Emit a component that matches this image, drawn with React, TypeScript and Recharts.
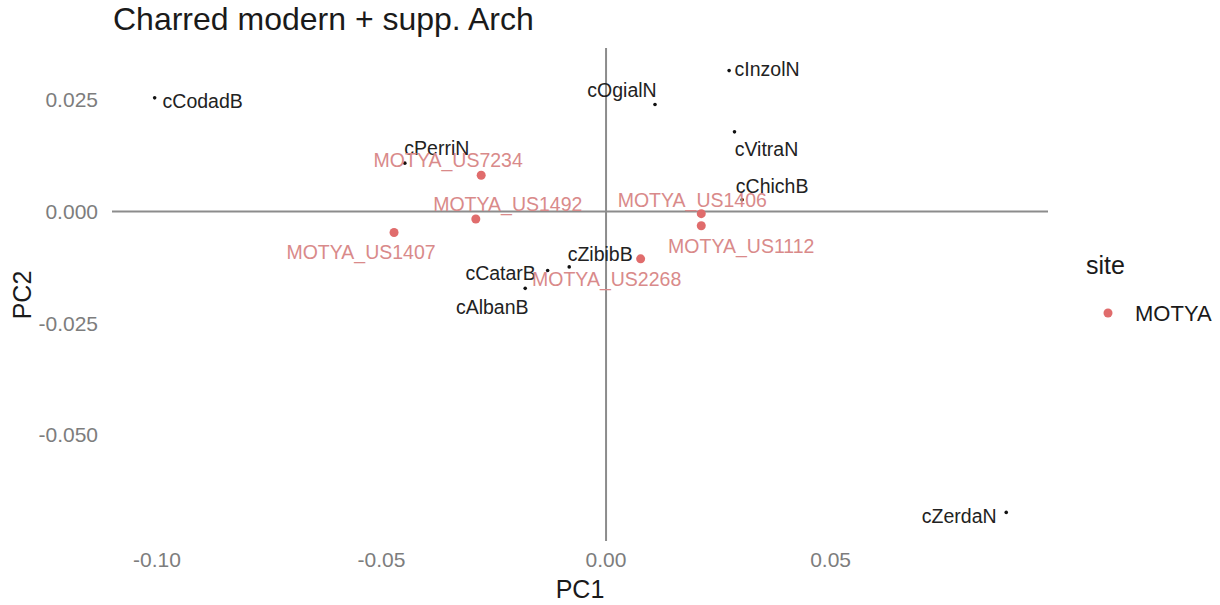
import React from 'react';
import { ScatterChart, Scatter, XAxis, YAxis, ReferenceLine } from 'recharts';

// Reference accessions (black)
const refNames = ['cCodadB', 'cPerriN', 'cOgialN', 'cInzolN', 'cVitraN', 'cChichB', 'cZibibB', 'cCatarB', 'cAlbanB', 'cZerdaN'];
const refPC1 = [-0.1005, -0.0448, 0.0109, 0.0274, 0.0286, 0.0303, -0.0082, -0.0130, -0.0180, 0.0891];
const refPC2 = [0.0254, 0.0108, 0.0239, 0.0315, 0.0178, 0.0026, -0.0124, -0.0132, -0.0172, -0.0673];

// Archaeological samples, site MOTYA (red)
const motyaNames = ['MOTYA_US7234', 'MOTYA_US1492', 'MOTYA_US1407', 'MOTYA_US1406', 'MOTYA_US1112', 'MOTYA_US2268'];
const motyaPC1 = [-0.0278, -0.0290, -0.0472, 0.0212, 0.0212, 0.0077];
const motyaPC2 = [0.0081, -0.0017, -0.0047, -0.0005, -0.0032, -0.0106];

const xTicks = [-0.1, -0.05, 0, 0.05];
const yTicks = [-0.05, -0.025, 0, 0.025];

// Repelled label placement (text centre / baseline relative to the point, px)
const labelNudge: Record<string, [number, number]> = {
  cCodadB: [48, 10],
  cPerriN: [32, -8],
  cOgialN: [-33, -8],
  cInzolN: [38, 5],
  cVitraN: [32, 24],
  cChichB: [30, -7],
  cZibibB: [31, -6],
  cCatarB: [-47, 10],
  cAlbanB: [-33, 26],
  cZerdaN: [-47, 11],
  MOTYA_US7234: [-33, -8],
  MOTYA_US1492: [32, -8],
  MOTYA_US1407: [-33, 27],
  MOTYA_US1406: [-9, -7],
  MOTYA_US1112: [40, 27],
  MOTYA_US2268: [-34, 27],
};

const FONT = '"Liberation Sans", Arial, sans-serif';
const MOTYA_COLOR = '#E06C6C';
const MOTYA_TEXT = '#D98A8A';
const REF_COLOR = '#111111';
const REF_TEXT = '#222222';

const refData = refNames.map((name, i) => ({ name, pc1: refPC1[i], pc2: refPC2[i] }));
const motyaData = motyaNames.map((name, i) => ({ name, pc1: motyaPC1[i], pc2: motyaPC2[i] }));

const dot = (r: number, fill: string) => (p: any) => (
  <circle cx={p.cx} cy={p.cy} r={r} fill={fill} />
);

const label = (fill: string) => (p: any) => {
  const [dx, dy] = labelNudge[p.payload.name] || [0, 0];
  return (
    <text
      x={p.cx + dx}
      y={p.cy + dy}
      textAnchor="middle"
      fill={fill}
      fontSize={19.5}
      fontFamily={FONT}
    >
      {p.payload.name}
    </text>
  );
};

export default function App() {
  return (
    <div style={{ position: 'absolute', left: 0, top: 0, width: 1220, height: 605, background: '#fff' }}>
      <ScatterChart
        width={1220}
        height={605}
        margin={{ top: 48, right: 172, bottom: 34, left: 12 }}
      >
        <XAxis
          type="number"
          dataKey="pc1"
          domain={[-0.11, 0.0984]}
          allowDataOverflow
          ticks={xTicks}
          tickFormatter={(v: number) => v.toFixed(2)}
          axisLine={false}
          tickLine={false}
          tickSize={0}
          tickMargin={11}
          height={30}
          tick={{ fill: '#7d7d7d', fontSize: 21, fontFamily: FONT }}
        />
        <YAxis
          type="number"
          dataKey="pc2"
          domain={[-0.0737, 0.03655]}
          allowDataOverflow
          ticks={yTicks}
          tickFormatter={(v: number) => v.toFixed(3)}
          axisLine={false}
          tickLine={false}
          tickSize={0}
          tickMargin={14}
          width={100}
          tick={{ fill: '#7d7d7d', fontSize: 21, fontFamily: FONT }}
        />
        <ReferenceLine x={0} stroke="#8c8c8c" strokeWidth={2} />
        <ReferenceLine y={0} stroke="#8c8c8c" strokeWidth={2} />
        <Scatter data={refData} shape={dot(1.8, REF_COLOR)} isAnimationActive={false} />
        <Scatter data={motyaData} shape={dot(4.5, MOTYA_COLOR)} isAnimationActive={false} />
        <Scatter data={refData} shape={label(REF_TEXT)} isAnimationActive={false} />
        <Scatter data={motyaData} shape={label(MOTYA_TEXT)} isAnimationActive={false} />
      </ScatterChart>
      <svg
        width={1220}
        height={605}
        style={{ position: 'absolute', left: 0, top: 0, pointerEvents: 'none' }}
      >
        <text x={113} y={30} fontSize={32} fontFamily={FONT} fill="#1a1a1a">
          Charred modern + supp. Arch
        </text>
        <text x={580} y={598} fontSize={25} fontFamily={FONT} fill="#1a1a1a" textAnchor="middle">
          PC1
        </text>
        <text
          x={0}
          y={0}
          fontSize={25}
          fontFamily={FONT}
          fill="#1a1a1a"
          textAnchor="middle"
          transform="translate(31,295) rotate(-90)"
        >
          PC2
        </text>
        <text x={1086} y={274} fontSize={25} fontFamily={FONT} fill="#1a1a1a">
          site
        </text>
        <circle cx={1108} cy={313} r={4.5} fill={MOTYA_COLOR} />
        <text x={1135} y={321} fontSize={22} fontFamily={FONT} fill="#1a1a1a">
          MOTYA
        </text>
      </svg>
    </div>
  );
}
